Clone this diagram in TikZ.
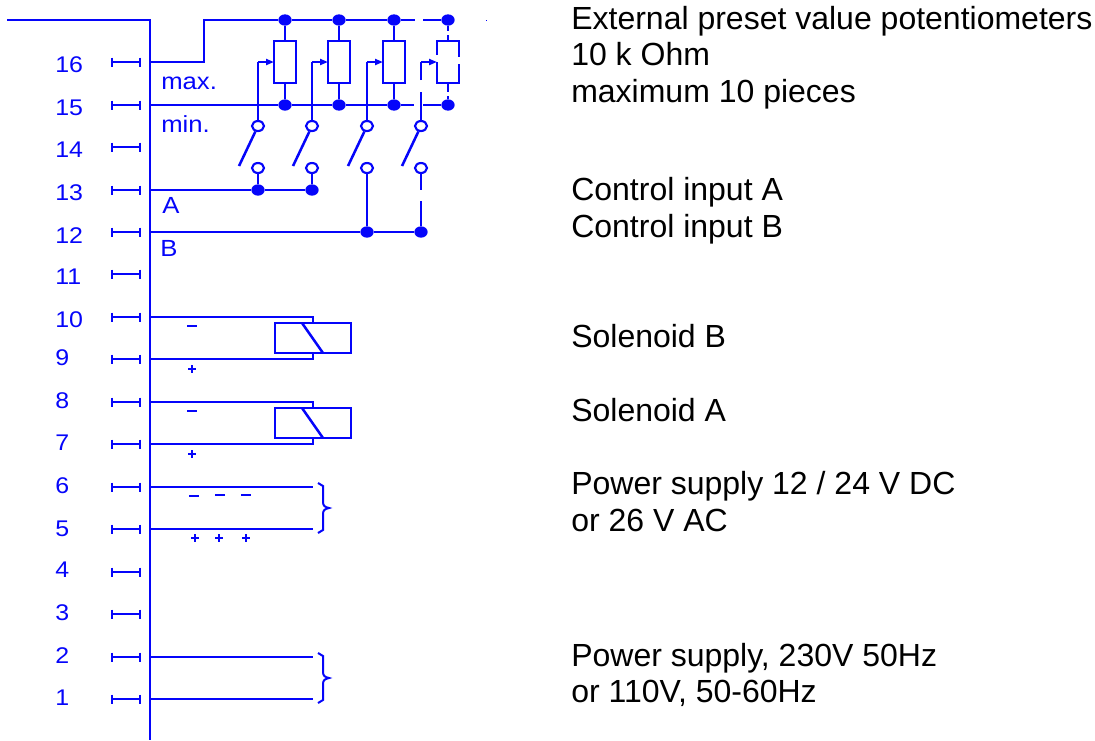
\documentclass[tikz,border=0pt]{standalone}
\usepackage{fontspec}
\setmainfont{Liberation Sans}
\newfontfamily\widefont[FakeStretch=1.1]{Liberation Sans}
\usepackage{xcolor}
\usetikzlibrary{shapes.geometric, calc}
\usetikzlibrary{arrows.meta}
\definecolor{myblue}{HTML}{0505FA}
\tikzset{>=stealth,
	wire/.style={draw=myblue,line width=1.9pt},
	dot/.style={ellipse,fill=myblue,inner sep=0pt,minimum width=10pt,minimum height=8.5pt},
	ring/.style={ellipse,draw=myblue,fill=white,line width=1.6pt,inner sep=0pt,minimum width=9pt,minimum height=7.5pt},
	termlabel/.style={anchor=base west,text=myblue,font=\widefont\fontsize{17}{18}\selectfont,inner sep=0pt},
	wirelabel/.style={anchor=base west,text=myblue,font=\widefont\fontsize{17.5}{20}\selectfont,inner sep=0pt},
	caption/.style={anchor=base west,text=black,font=\fontsize{24}{28}\selectfont,inner sep=0pt},
}
\begin{document}
\begin{tikzpicture}[x=0.75pt,y=-0.75pt]
	\useasboundingbox (0,0) rectangle (1095,740);
	% terminals
	\foreach \n/\y/\b in {16/62/72,15/105/115,14/147/157,13/190/200,12/232/243,11/274/284,10/317/327,9/359/365,8/402/408,7/444/450,6/487/493,5/529/536,4/572/577,3/614/620,2/657/663,1/699/705} {
		\coordinate (bus\n) at (150,\y);
		\node[termlabel] (num\n) at (55,\b) {\n};
		\draw[wire] (112,\y-4.5) -- (112,\y+4.5) (112,\y) -- (140,\y) (140,\y-4.5) -- (140,\y+4.5);
	}
	\coordinate (bustop) at (150,20);
	\draw[wire] (7,20) -- (bustop) -- (150,740);
	% potentiometers
	\foreach \i/\x in {1/285,2/339,3/394,4/448} {
		\node[dot] (hi\i) at (\x,20) {};
		\node[dot] (lo\i) at (\x,105) {};
		\coordinate (rt\i) at (\x,41);
		\coordinate (rb\i) at (\x,83);
	}
	\draw[wire] (bus16) -- (204,62) -- (204,20) -- (hi1) -- (hi2) -- (hi3) -- (415,20);
	\draw[wire] (423,20) -- (hi4);
	\draw[wire] (bus15) -- (lo1) -- (lo2) -- (lo3) -- (414,105);
	\draw[wire] (423,105) -- (lo4);
	\foreach \i in {1,2,3} {
		\draw[wire] (hi\i) -- (rt\i);
		\draw[wire] (rb\i) -- (lo\i);
		\draw[wire] ($(rt\i)+(-11,0)$) rectangle ($(rb\i)+(11,0)$);
	}
	% last one is dashed by hand
	\draw[wire] (hi4) -- (448,31) (448,35) -- (rt4);
	\draw[wire] (rb4) -- (448,92) (448,96) -- (lo4);
	\draw[wire] (437,55) -- (437,41) -- (459,41) -- (459,57);
	\draw[wire] (437,62) -- (437,83) -- (459,83) -- (459,64);
	% switches
	\foreach \i/\x in {1/258,2/312,3/367,4/421} {
		\node[ring] (up\i) at (\x,126) {};
		\node[ring] (dn\i) at (\x,168) {};
		\draw[wire] (up\i) -- (\x-19,166);
		\draw[wire,-{Stealth[length=6pt,width=4.5pt,inset=0pt]}] (\x,62) -- (\x+16,62);
	}
	\draw[wire] (up1) -- (258,62);
	\draw[wire] (up2) -- (312,62);
	\draw[wire] (up3) -- (367,62);
	\draw[wire] (up4) -- (421,92) (421,80) -- (421,62);
	\node[dot] (ina1) at (258,190) {};
	\node[dot] (ina2) at (312,190) {};
	\node[dot] (inb1) at (367,232) {};
	\node[dot] (inb2) at (421,232) {};
	\draw[wire] (bus13) -- (ina1) -- (ina2);
	\draw[wire] (bus12) -- (inb1) -- (inb2);
	\draw[wire] (dn1) -- (ina1);
	\draw[wire] (dn2) -- (ina2);
	\draw[wire] (dn3) -- (inb1);
	\draw[wire] (dn4) -- (421,190) (421,201) -- (inb2);
	\fill[myblue] (485.5,19.5) rectangle (487,21);
	% solenoids
	\foreach \a/\b/\t in {10/9/323,8/7/408} {
		\draw[wire] (bus\a) -- (313,\t-6) -- (313,\t);
		\draw[wire] (bus\b) -- (313,\t+36) -- (313,\t+30);
		\draw[wire] (275,\t) rectangle (351,\t+30);
		\draw[wire] (302,\t) -- (323,\t+30);
	}
	% supply wires
	\foreach \a/\b/\m in {6/5/508,2/1/678} {
		\draw[wire] (bus\a) -- (313,\m-21);
		\draw[wire] (bus\b) -- (313,\m+21);
		\draw[myblue,line width=1.5pt] (318,\m-25) -- (323,\m-22) -- (323,\m-6) .. controls (323,\m-2) and (325,\m-1) .. (329,\m) .. controls (325,\m+1) and (323,\m+2) .. (323,\m+6) -- (323,\m+22) -- (318,\m+25);
	}
	% labels on the wires
	\node[wirelabel] (lmax) at (161,89) {max.};
	\node[wirelabel] (lmin) at (161,132) {min.};
	\node[wirelabel] (la) at (162,213) {A};
	\node[wirelabel] (lb) at (160,256) {B};
	\foreach \x/\y in {192/326,192/411,194/496,220/495,246/495} {
		\draw[wire] (\x-5,\y) -- (\x+5,\y);
	}
	\foreach \x/\y in {192/369,192/454,195/538,219/538,246/538} {
		\draw[wire] (\x-4,\y) -- (\x+4,\y) (\x,\y-4) -- (\x,\y+4);
	}
	% captions
	\node[caption] (c1) at (571,29) {External preset value potentiometers};
	\node[caption] (c2) at (571,65) {10 k Ohm};
	\node[caption] (c3) at (571,102) {maximum 10 pieces};
	\node[caption] (c4) at (571,200) {Control input A};
	\node[caption] (c5) at (571,237) {Control input B};
	\node[caption] (c6) at (571,347) {Solenoid B};
	\node[caption] (c7) at (571,421) {Solenoid A};
	\node[caption] (c8) at (571,494) {Power supply 12 / 24 V DC};
	\node[caption] (c9) at (571,531) {or 26 V AC};
	\node[caption] (c10) at (571,666) {Power supply, 230V 50Hz};
	\node[caption] (c11) at (571,702) {or 110V, 50-60Hz};
\end{tikzpicture}
\end{document}
